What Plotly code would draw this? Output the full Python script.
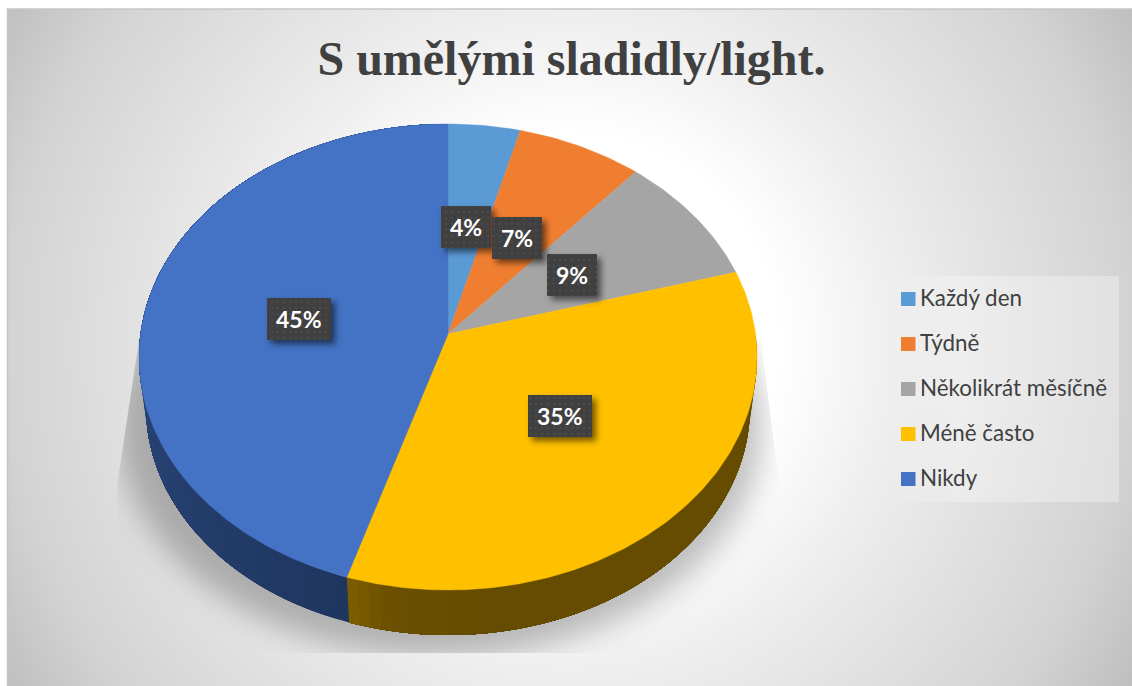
import base64
import math

import numpy as np
import plotly.graph_objects as go

# Chart content
TITLE = "S umělými sladidly/light."
CATEGORIES = ["Každý den", "Týdně", "Několikrát měsíčně", "Méně často", "Nikdy"]
SHARES = [4, 7, 9, 35, 45]
COLORS = ["#5B9BD5", "#F07E30", "#A5A5A5", "#FFC000", "#4472C4"]

# Pie geometry, in canvas pixels
W, H = 1132, 686
APEX = (448, 334)
TOP_RIM = (448, 357, 309, 233)     # cx, cy, rx, ry
BOTTOM_RIM = (448, 407, 302, 228)
PERSPECTIVE = 0.94

# Label box centres and widths
LABEL_BOXES = [(466, 227, 50), (517, 238, 50), (572, 275, 50), (560, 416, 64), (299, 319, 64)]
LABEL_BOX_H = 42

# Legend layout
LEGEND_BOX = (890, 276, 1119, 502)
LEGEND_SWATCH_X = 901
LEGEND_TEXT_X = 918
LEGEND_FIRST_Y = 299
LEGEND_STEP = 45


def rim_param(theta):
    """Foreshortened rim angle for a true pie angle."""
    return 2 * np.arctan2(PERSPECTIVE * np.sin(theta / 2), np.cos(theta / 2))


def rim_point(rim, theta):
    cx, cy, rx, ry = rim
    t = rim_param(np.asarray(theta, dtype=float))
    return cx + rx * np.sin(t), cy - ry * np.cos(t)


def mix(stops, pos):
    """Piecewise-linear colour lookup over (position, rgb) stops."""
    xs = [s[0] for s in stops]
    channels = [np.interp(pos, xs, [s[1][i] for s in stops]) for i in range(3)]
    return "rgb(%d,%d,%d)" % tuple(int(round(c)) for c in channels)


# Side-wall shading along the rim, 0 at the slice's clockwise start
WALL_SHADES = {
    3: [(0.0, (101, 76, 0)), (0.8, (101, 76, 0)), (0.93, (106, 80, 0)), (1.0, (128, 96, 0))],
    4: [(0.0, (31, 54, 96)), (0.3, (38, 64, 112)), (0.7, (46, 78, 138)), (1.0, (56, 96, 170))],
}

cum = np.cumsum([0] + SHARES) / sum(SHARES) * 2 * math.pi


def background_svg():
    return f"""<svg xmlns="http://www.w3.org/2000/svg" width="{W}" height="{H}" viewBox="0 0 {W} {H}">
<defs>
<radialGradient id="bg" gradientUnits="userSpaceOnUse" cx="568" cy="345" r="660">
<stop offset="0" stop-color="#ffffff"/><stop offset="0.32" stop-color="#ffffff"/>
<stop offset="0.5" stop-color="#eeeeee"/><stop offset="0.68" stop-color="#e0e0e0"/>
<stop offset="0.85" stop-color="#d3d3d3"/><stop offset="1" stop-color="#bebebe"/>
</radialGradient>
<linearGradient id="legendfill" x1="0" x2="1" y1="0" y2="0">
<stop offset="0" stop-color="#fff" stop-opacity="0"/><stop offset="0.3" stop-color="#fff" stop-opacity="0.3"/>
<stop offset="1" stop-color="#fff" stop-opacity="0.3"/>
</linearGradient>
<filter id="soft" x="-20%" y="-20%" width="140%" height="140%"><feGaussianBlur stdDeviation="15"/></filter>
<clipPath id="cast"><path d="M139,340 L117,486 L117,653 L779,653 L779,483 L761,340 Z"/></clipPath>
</defs>
<rect x="0" y="0" width="{W}" height="{H}" fill="#ffffff"/>
<rect x="8" y="9" width="{W - 8}" height="{H - 9}" fill="url(#bg)"/>
<path d="M7.5,{H} V9 H{W}" fill="none" stroke="#c6c6c6" stroke-width="1.6"/>
<rect x="{LEGEND_BOX[0]}" y="{LEGEND_BOX[1]}" width="{LEGEND_BOX[2] - LEGEND_BOX[0]}" height="{LEGEND_BOX[3] - LEGEND_BOX[1]}" fill="url(#legendfill)"/>
<g clip-path="url(#cast)"><ellipse cx="440" cy="425" rx="322" ry="232" fill="#000" fill-opacity="0.25" filter="url(#soft)"/></g>
</svg>"""


def label_boxes_svg():
    rects = []
    for cx, cy, w in LABEL_BOXES:
        x, y = cx - w / 2, cy - LABEL_BOX_H / 2
        rects.append(
            f'<rect x="{x}" y="{y}" width="{w}" height="{LABEL_BOX_H}" fill="#000" fill-opacity="0.55" '
            f'transform="translate(4,4)" filter="url(#boxshadow)"/>'
            f'<rect x="{x}" y="{y}" width="{w}" height="{LABEL_BOX_H}" fill="#404040"/>'
            f'<rect x="{x}" y="{y}" width="{w}" height="{LABEL_BOX_H}" fill="url(#dots)"/>'
        )
    return f"""<svg xmlns="http://www.w3.org/2000/svg" width="{W}" height="{H}" viewBox="0 0 {W} {H}">
<defs>
<filter id="boxshadow" x="-30%" y="-30%" width="160%" height="160%"><feGaussianBlur stdDeviation="3"/></filter>
<pattern id="dots" width="6" height="6" patternUnits="userSpaceOnUse">
<rect x="1" y="1" width="2" height="2" fill="#4c4c4c"/>
</pattern>
</defs>
{''.join(rects)}
</svg>"""


def data_uri(svg):
    return "data:image/svg+xml;base64," + base64.b64encode(svg.encode("utf-8")).decode("ascii")


fig = go.Figure()

# Side wall: each shaded strip runs to the end of its slice and the next one
# paints over it, which keeps the joins free of hairline gaps
for i, (start, end) in enumerate(zip(cum[:-1], cum[1:])):
    if i not in WALL_SHADES:
        continue
    edges = np.linspace(start, end, int(round((end - start) * 180 / math.pi / 2)) + 1)
    for a in edges[:-1]:
        if math.cos(float(rim_param(a))) > 0.12 and a < math.pi:
            continue
        arc = np.linspace(a, end, 60)
        x1, y1 = rim_point(TOP_RIM, arc)
        x2, y2 = rim_point(BOTTOM_RIM, arc[::-1])
        shade = mix(WALL_SHADES[i], (a - start) / (end - start))
        fig.add_trace(go.Scatter(
            x=list(x1) + list(x2) + [x1[0]], y=list(y1) + list(y2) + [y1[0]],
            mode="none", fill="toself", fillcolor=shade,
            hoverinfo="skip", showlegend=False,
        ))

# Top face of the pie
for name, share, color, start, end in zip(CATEGORIES, SHARES, COLORS, cum[:-1], cum[1:]):
    angles = np.linspace(start, end, max(int((end - start) * 180 / math.pi), 8) + 1)
    rx, ry = rim_point(TOP_RIM, angles)
    fig.add_trace(go.Scatter(
        x=[APEX[0]] + list(rx) + [APEX[0]], y=[APEX[1]] + list(ry) + [APEX[1]],
        mode="lines", fill="toself", fillcolor=color, line=dict(color=color, width=0.5),
        name=name, text=f"{share}%", hoverinfo="name+text", showlegend=False,
    ))

annotations = []
for share, (cx, cy, _) in zip(SHARES, LABEL_BOXES):
    annotations.append(dict(
        x=cx, y=cy, xref="x", yref="y", text=f"<b>{share}%</b>", showarrow=False,
        font=dict(family="Lato", size=23, color="#ffffff"), xanchor="center", yanchor="middle",
    ))

shapes = []
for i, (name, color) in enumerate(zip(CATEGORIES, COLORS)):
    y = LEGEND_FIRST_Y + i * LEGEND_STEP
    shapes.append(dict(
        type="rect", xref="x", yref="y", x0=LEGEND_SWATCH_X, x1=LEGEND_SWATCH_X + 14.5,
        y0=y - 7, y1=y + 7, fillcolor=color, line=dict(width=0),
    ))
    annotations.append(dict(
        x=LEGEND_TEXT_X, y=y - 1.5, xref="x", yref="y", text=name, showarrow=False,
        font=dict(family="Lato", size=22.4, color="#404040"), xanchor="left", yanchor="middle",
    ))

fig.update_layout(
    width=W, height=H, autosize=False,
    margin=dict(l=0, r=0, t=0, b=0, pad=0),
    paper_bgcolor="#ffffff", plot_bgcolor="rgba(0,0,0,0)",
    showlegend=False,
    title=dict(
        text=f"<b>{TITLE}</b>", x=571.5 / W, xref="paper", xanchor="center",
        y=1 - 58 / H, yref="paper", yanchor="middle",
        font=dict(family="Liberation Serif", size=48, color="#404040"),
    ),
    xaxis=dict(range=[0, W], visible=False, fixedrange=True),
    yaxis=dict(range=[H, 0], visible=False, fixedrange=True),
    annotations=annotations,
    shapes=shapes,
    images=[
        dict(source=data_uri(background_svg()), xref="paper", yref="paper", x=0, y=1,
             sizex=1, sizey=1, sizing="stretch", xanchor="left", yanchor="top", layer="below"),
        dict(source=data_uri(label_boxes_svg()), xref="paper", yref="paper", x=0, y=1,
             sizex=1, sizey=1, sizing="stretch", xanchor="left", yanchor="top", layer="above"),
    ],
)

fig.write_html("out.html", config={"displayModeBar": False})
